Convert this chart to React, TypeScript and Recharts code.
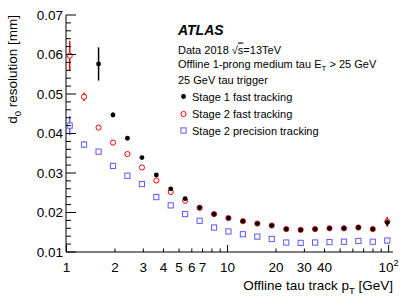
import React from 'react';
import { ScatterChart, Scatter, XAxis, YAxis, ErrorBar } from 'recharts';

// offline tau track pT bin centres [GeV]
const PT = [1.047, 1.286, 1.582, 1.944, 2.389, 2.94, 3.613, 4.439, 5.453, 6.71, 8.245, 10.13, 12.46, 15.31, 18.82, 23.15, 28.45, 34.96, 42.96, 52.84, 64.93, 79.79, 98.15];

// d0 resolution [mm]
const STAGE1_FAST = [null, null, 0.0576, 0.0447, 0.0388, 0.0339, 0.0295, 0.026, 0.0235, 0.0212, 0.0196, 0.0186, 0.0178, 0.0172, 0.0167, 0.0158, 0.0156, 0.0158, 0.016, 0.016, 0.0162, 0.0158, 0.0175];
const STAGE1_FAST_ERR = [0, 0, 0.0042, 0.0006, 0.0004, 0.0003, 0.0002, 0.0002, 0.0002, 0.0002, 0.0002, 0.0002, 0.0002, 0.0002, 0.0002, 0.0002, 0.0002, 0.0002, 0.0002, 0.0002, 0.0002, 0.0002, 0.001];

const STAGE2_FAST = [0.0597, 0.0493, 0.0415, 0.0377, 0.0348, 0.0314, 0.0281, 0.0252, 0.023, 0.0212, 0.0196, 0.0186, 0.0178, 0.0172, 0.0167, 0.0158, 0.0156, 0.0158, 0.016, 0.016, 0.0162, 0.0158, 0.0177];
const STAGE2_FAST_ERR = [0.0037, 0.0011, 0.0004, 0.0003, 0.0002, 0.0002, 0.0002, 0.0002, 0.0002, 0.0002, 0.0002, 0.0002, 0.0002, 0.0002, 0.0002, 0.0002, 0.0002, 0.0002, 0.0002, 0.0002, 0.0002, 0.0002, 0.0012];

const STAGE2_PREC = [0.042, 0.0372, 0.0354, 0.0318, 0.0293, 0.0272, 0.0239, 0.0218, 0.0196, 0.0179, 0.0162, 0.0152, 0.0145, 0.0139, 0.0133, 0.0124, 0.0123, 0.0124, 0.0125, 0.0126, 0.0128, 0.0126, 0.0129];
const STAGE2_PREC_ERR = [0.0024, 0.0009, 0.0004, 0.0003, 0.0002, 0.0002, 0.0002, 0.0002, 0.0002, 0.0002, 0.0002, 0.0002, 0.0002, 0.0002, 0.0002, 0.0002, 0.0002, 0.0002, 0.0002, 0.0002, 0.0002, 0.0002, 0.0003];

const X_TICKS = [1, 2, 3, 4, 5, 6, 7, 8, 9, 10, 20, 30, 40, 50, 60, 70, 80, 90, 100];
const X_MAJOR = [1, 10, 100];
const X_LABELS: Record<number, string> = { 1: '1', 2: '2', 3: '3', 4: '4', 5: '5', 6: '6', 7: '7', 10: '10', 20: '20', 30: '30', 40: '40', 100: '10^2' };

const Y_MAJOR = [0.01, 0.02, 0.03, 0.04, 0.05, 0.06, 0.07];
const Y_MINOR = [0.012, 0.014, 0.016, 0.018, 0.022, 0.024, 0.026, 0.028, 0.032, 0.034, 0.036, 0.038, 0.042, 0.044, 0.046, 0.048, 0.052, 0.054, 0.056, 0.058, 0.062, 0.064, 0.066, 0.068];
const Y_LABELS = ['0.01', '0.02', '0.03', '0.04', '0.05', '0.06', '0.07'];
const Y_TICKS = [...Y_MAJOR, ...Y_MINOR].sort((a, b) => a - b);

const X_DOMAIN = [0.993, 106.5];
const Y_DOMAIN = [0.01, 0.07];

const FONT = '"Liberation Sans", Arial, Helvetica, sans-serif';
const RED = '#ff0000';
const BLUE = '#5a5aff';

const build = (vals: (number | null)[], errs: number[]) =>
  PT.map((x, i) => ({ x, y: vals[i], err: errs[i] })).filter((d) => d.y !== null);

const s1 = build(STAGE1_FAST, STAGE1_FAST_ERR);
const s2 = build(STAGE2_FAST, STAGE2_FAST_ERR);
const s3 = build(STAGE2_PREC, STAGE2_PREC_ERR);

const isMajorY = (v: number) => Y_MAJOR.some((m) => Math.abs(m - v) < 1e-9);
const yLabel = (v: number) => {
  const i = Y_MAJOR.findIndex((m) => Math.abs(m - v) < 1e-9);
  return i >= 0 ? Y_LABELS[i] : null;
};

const XTickBottom = (p: any) => {
  const v = p.payload.value;
  const len = X_MAJOR.includes(v) ? 7 : 3.5;
  const lab = X_LABELS[v];
  return (
    <g>
      <line x1={p.x} x2={p.x} y1={p.y} y2={p.y - len} stroke="#000" strokeWidth={1} />
      {lab && (lab === '10^2' ? (
        <text x={p.x} y={p.y + 20} textAnchor="middle" fontFamily={FONT} fontSize={13.5} fill="#000">
          10<tspan fontSize={9} dy={-6}>2</tspan>
        </text>
      ) : (
        <text x={p.x} y={p.y + 20} textAnchor="middle" fontFamily={FONT} fontSize={13.5} fill="#000">{lab}</text>
      ))}
    </g>
  );
};

const XTickTop = (p: any) => {
  const v = p.payload.value;
  const len = X_MAJOR.includes(v) ? 7 : 3.5;
  return <line x1={p.x} x2={p.x} y1={p.y} y2={p.y + len} stroke="#000" strokeWidth={1} />;
};

const YTickLeft = (p: any) => {
  const v = p.payload.value;
  const len = isMajorY(v) ? 10 : 5;
  const lab = yLabel(v);
  return (
    <g>
      <line x1={p.x} x2={p.x + len} y1={p.y} y2={p.y} stroke="#000" strokeWidth={1} />
      {lab && (
        <text x={p.x - 3} y={p.y + 4.8} textAnchor="end" fontFamily={FONT} fontSize={13.5} fill="#000">{lab}</text>
      )}
    </g>
  );
};

const YTickRight = (p: any) => {
  const v = p.payload.value;
  const len = isMajorY(v) ? 10 : 5;
  return <line x1={p.x} x2={p.x - len} y1={p.y} y2={p.y} stroke="#000" strokeWidth={1} />;
};

const BlackDot = (p: any) => <circle cx={p.cx} cy={p.cy} r={2.4} fill="#000" />;
const RedCircle = (p: any) => <circle cx={p.cx} cy={p.cy} r={2.6} fill="#fff" stroke={RED} strokeWidth={1} />;
const BlueSquare = (p: any) => <rect x={p.cx - 2.6} y={p.cy - 2.6} width={5.2} height={5.2} fill="#fff" stroke={BLUE} strokeWidth={1} />;

export default function App() {
  return (
    <div style={{ position: 'absolute', left: 0, top: 0, width: 415, height: 298, background: '#fff' }}>
      <ScatterChart width={415} height={298} margin={{ top: 15, right: 22, bottom: 0, left: 0 }}>
        <XAxis dataKey="x" type="number" scale="log" domain={X_DOMAIN} allowDataOverflow ticks={X_TICKS} interval={0}
          tick={(p: any) => <XTickBottom {...p} />} tickLine={false} tickSize={0} tickMargin={0} height={46}
          axisLine={{ stroke: '#000', strokeWidth: 1 }} />
        <XAxis xAxisId="top" orientation="top" type="number" scale="log" domain={X_DOMAIN} allowDataOverflow ticks={X_TICKS} interval={0}
          tick={(p: any) => <XTickTop {...p} />} tickLine={false} tickSize={0} tickMargin={0} height={0}
          axisLine={{ stroke: '#000', strokeWidth: 1 }} />
        <YAxis dataKey="y" type="number" domain={Y_DOMAIN} allowDataOverflow ticks={Y_TICKS} interval={0}
          tick={(p: any) => <YTickLeft {...p} />} tickLine={false} tickSize={0} tickMargin={0} width={66}
          axisLine={{ stroke: '#000', strokeWidth: 1 }} />
        <YAxis yAxisId="right" orientation="right" type="number" domain={Y_DOMAIN} allowDataOverflow ticks={Y_TICKS} interval={0}
          tick={(p: any) => <YTickRight {...p} />} tickLine={false} tickSize={0} tickMargin={0} width={0}
          axisLine={{ stroke: '#000', strokeWidth: 1 }} />
        <Scatter name="Stage 2 precision tracking" data={s3} shape={BlueSquare} isAnimationActive={false}>
          <ErrorBar dataKey="err" direction="y" width={0} stroke={BLUE} strokeWidth={1.5} />
        </Scatter>
        <Scatter name="Stage 2 fast tracking" data={s2} shape={RedCircle} isAnimationActive={false}>
          <ErrorBar dataKey="err" direction="y" width={0} stroke={RED} strokeWidth={1.5} />
        </Scatter>
        <Scatter name="Stage 1 fast tracking" data={s1} shape={BlackDot} isAnimationActive={false}>
          <ErrorBar dataKey="err" direction="y" width={0} stroke="#000" strokeWidth={1.5} />
        </Scatter>
      </ScatterChart>
      <svg width={415} height={298} style={{ position: 'absolute', left: 0, top: 0, pointerEvents: 'none' }}>
        <g fontFamily={FONT} fill="#000">
          <text x={178} y={35} fontSize={14} fontWeight="bold" fontStyle="italic">ATLAS</text>
          <text x={178} y={53.5} fontSize={11}>Data 2018 √<tspan textDecoration="overline" style={{ textDecoration: 'overline' }}>s</tspan>=13TeV</text>
          <text x={178} y={68} fontSize={11}>Offline 1-prong medium tau E<tspan fontSize={8} dy={3}>T</tspan><tspan dy={-3}> &gt; 25 GeV</tspan></text>
          <text x={178} y={83.5} fontSize={11}>25 GeV tau trigger</text>
          <circle cx={183.5} cy={96.5} r={2.4} fill="#000" />
          <text x={192} y={100.5} fontSize={11}>Stage 1 fast tracking</text>
          <circle cx={183.5} cy={114} r={2.6} fill="#fff" stroke={RED} strokeWidth={1} />
          <text x={192} y={118} fontSize={11}>Stage 2 fast tracking</text>
          <rect x={180.9} y={127.9} width={5.2} height={5.2} fill="#fff" stroke={BLUE} strokeWidth={1} />
          <text x={192} y={134.5} fontSize={11}>Stage 2 precision tracking</text>
          <text x={393} y={290} fontSize={13.5} textAnchor="end">Offline tau track p<tspan fontSize={9.5} dy={4}>T</tspan><tspan dy={-4}> [GeV]</tspan></text>
          <text transform="translate(17,15) rotate(-90)" fontSize={13.5} textAnchor="end">d<tspan fontSize={9.5} dy={4}>0</tspan><tspan dy={-4}> resolution [mm]</tspan></text>
        </g>
      </svg>
    </div>
  );
}
